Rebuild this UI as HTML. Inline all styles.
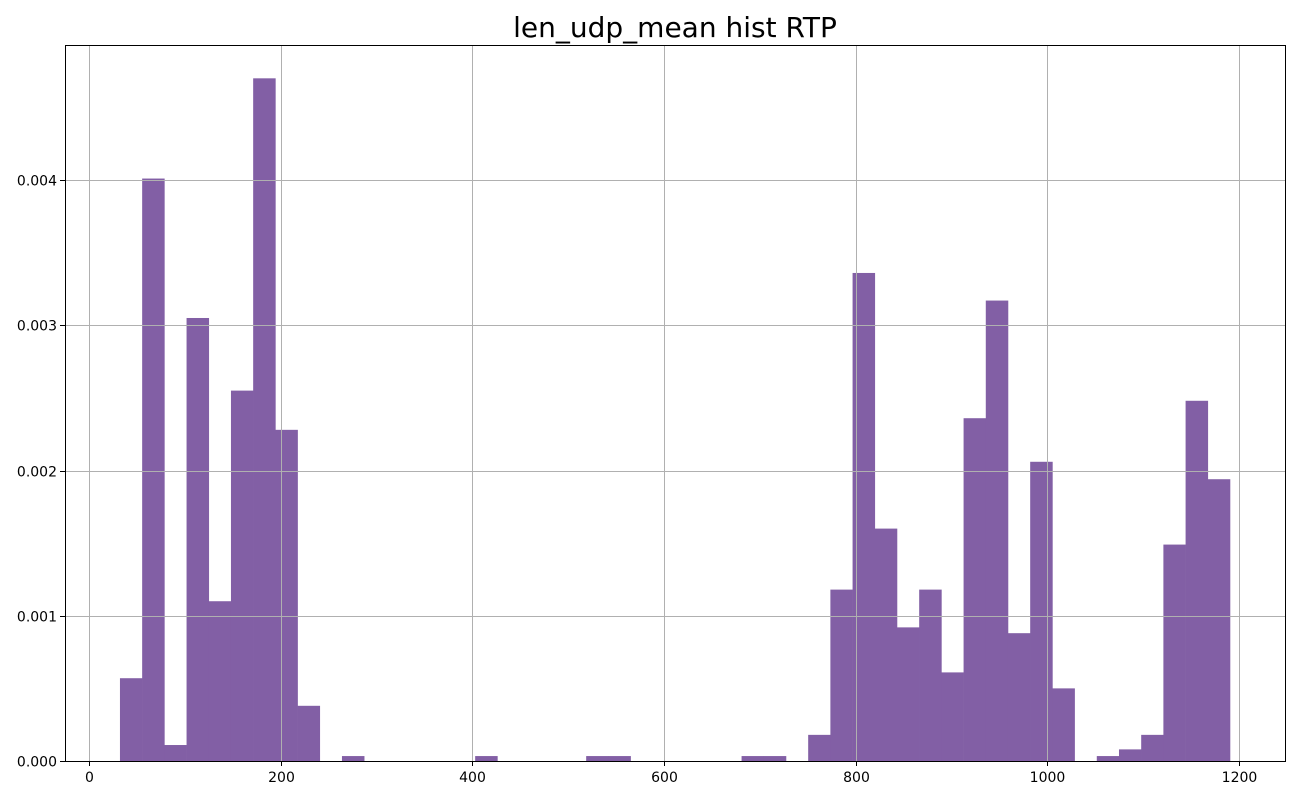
<!DOCTYPE html>
<html><head><meta charset="utf-8"><style>body{margin:0;background:#fff}svg{display:block;font-family:"DejaVu Sans","Liberation Sans",sans-serif}</style></head>
<body>
<svg id="chart" width="1300" height="800"></svg>
<script>
const binStart = 32.3;
const binWidth = 23.166;
const densities = [0.00057,0.00401,0.00011,0.00305,0.0011,0.00255,0.0047,0.00228,0.00038,0,
0.000034,0,0,0,0,0,0.000034,0,0,0,
0,0.000034,0.000034,0,0,0,0,0,0.000034,0.000034,
0,0.00018,0.00118,0.00336,0.0016,0.00092,0.00118,0.00061,0.00236,0.00317,
0.00088,0.00206,0.0005,0,0.000034,0.00008,0.00018,0.00149,0.00248,0.00194];
const xTicks = [0,200,400,600,800,1000,1200];
const yTicks = [0,0.001,0.002,0.003,0.004];
const yTickLabels = ["0.000","0.001","0.002","0.003","0.004"];

const L=65,R=1285,T=45,B=761;
const sx=v=>89+v*(1239-89)/1200;
const sy=v=>761-v*145250;
const NS="http://www.w3.org/2000/svg";
const svg=document.getElementById('chart');
function mk(tag,attrs,parent){const e=document.createElementNS(NS,tag);for(const k in attrs)e.setAttribute(k,attrs[k]);(parent||svg).appendChild(e);return e;}

const title=mk('text',{x:675,y:37,'text-anchor':'middle','font-size':28});
title.textContent='len_udp_mean hist RTP';



const bars=mk('g',{});


densities.forEach((d,i)=>{
  if(d<=0)return;
  const x0=sx(binStart+i*binWidth),x1=sx(binStart+(i+1)*binWidth);
  const r=mk('rect',{x:x0,y:sy(d),width:x1-x0+0.3,height:sy(0)-sy(d),fill:'#825fa5'},bars);
  
  
});

const grid=mk('g',{stroke:'#b0b0b0','stroke-width':1});


xTicks.forEach(v=>{const x=Math.round(sx(v))+0.5;mk('line',{x1:x,x2:x,y1:T,y2:B},grid);});
yTicks.forEach(v=>{const y=Math.round(sy(v))+0.5;mk('line',{x1:L,x2:R,y1:y,y2:y},grid);});

const frame=mk('rect',{x:L+0.5,y:T+0.5,width:R-L,height:B-T,fill:'none',stroke:'#000','stroke-width':1});



const xa=mk('g',{'font-size':14});


xTicks.forEach(v=>{const x=Math.round(sx(v))+0.5;
  mk('line',{x1:x,x2:x,y1:B,y2:B+5,stroke:'#000'},xa);
  const t=mk('text',{x:x,y:B+21,'text-anchor':'middle'},xa);t.textContent=v;
  
  });

const ya=mk('g',{'font-size':14});


yTicks.forEach((v,i)=>{const y=Math.round(sy(v))+0.5;
  mk('line',{x1:L-5,x2:L,y1:y,y2:y,stroke:'#000'},ya);
  const t=mk('text',{x:L-8,y:y+5,'text-anchor':'end'},ya);t.textContent=yTickLabels[i];
  
  });
</script>
</body></html>
